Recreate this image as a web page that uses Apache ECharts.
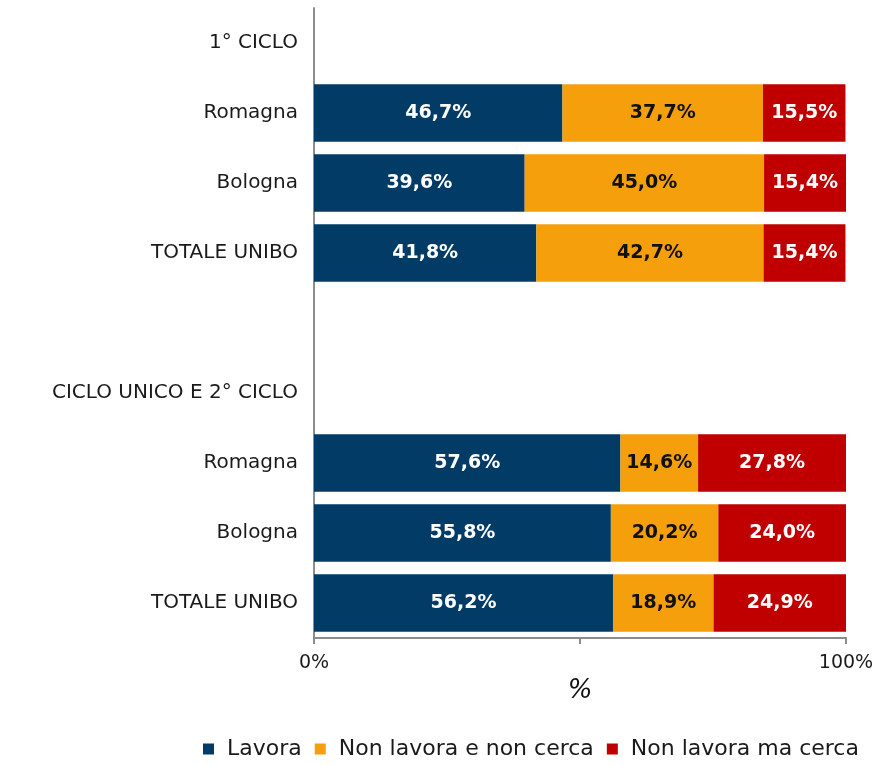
<!DOCTYPE html>
<html>
<head>
<meta charset="utf-8">
<script src="https://cdn.jsdelivr.net/npm/echarts@6/dist/echarts.min.js"></script>
<style>
  html, body { margin: 0; padding: 0; background: #fff; }
  #chart { width: 889px; height: 765px; }
</style>
</head>
<body>
<div id="chart"></div>
<script>
// categorie dall'alto verso il basso (intestazioni e riga vuota senza barre)
const categories = ['1° CICLO', 'Romagna', 'Bologna', 'TOTALE UNIBO', '', 'CICLO UNICO E 2° CICLO', 'Romagna', 'Bologna', 'TOTALE UNIBO']
const lavora = ['-', 46.7, 39.6, 41.8, '-', '-', 57.6, 55.8, 56.2]
const nonLavoraNonCerca = ['-', 37.7, 45.0, 42.7, '-', '-', 14.6, 20.2, 18.9]
const nonLavoraMaCerca = ['-', 15.5, 15.4, 15.4, '-', '-', 27.8, 24.0, 24.9]
const xTicks = [0, 50, 100]

const font = '"DejaVu Sans", sans-serif'
const chart = echarts.init(document.getElementById('chart'))

const pct = (p) => p.value.toFixed(1).replace('.', ',') + '%'

const makeSeries = (name, data, color, labelColor) => ({
  name: name,
  type: 'bar',
  stack: 'tot',
  data: data,
  barWidth: '82%',
  itemStyle: { color: color },
  label: {
    show: true,
    position: 'inside',
    formatter: pct,
    color: labelColor,
    fontFamily: font,
    fontWeight: 'bold',
    fontSize: 19
  }
})

chart.setOption({
  animation: false,
  textStyle: { fontFamily: font },
  grid: {
    left: 314,
    right: 43,
    top: 8,
    bottom: 127
  },
  legend: {
    bottom: 0,
    left: 198,
    itemWidth: 11,
    itemHeight: 11,
    itemGap: 13,
    icon: 'rect',
    textStyle: { fontFamily: font, fontSize: 22, color: '#1a1a1a', padding: [0, 0, 0, 8] },
    data: ['Lavora', 'Non lavora e non cerca', 'Non lavora ma cerca']
  },
  xAxis: {
    type: 'value',
    min: 0,
    max: 100,
    interval: 50,
    name: '%',
    nameLocation: 'middle',
    nameGap: 36,
    nameTextStyle: { fontFamily: font, fontSize: 26, color: '#111', fontStyle: 'italic' },
    axisLine: { show: true, lineStyle: { color: '#8c8c8c', width: 2 } },
    axisTick: { show: true, length: 6, lineStyle: { color: '#8c8c8c', width: 2 } },
    splitLine: { show: false },
    axisLabel: {
      margin: 16,
      fontSize: 19,
      color: '#1a1a1a',
      formatter: (v) => (xTicks.indexOf(v) !== -1 && v !== 50 ? v + '%' : '')
    }
  },
  yAxis: {
    type: 'category',
    inverse: true,
    data: categories,
    axisLine: { show: true, lineStyle: { color: '#8c8c8c', width: 2 } },
    axisTick: { show: false },
    axisLabel: { margin: 16, fontSize: 20, color: '#1a1a1a' }
  },
  series: [
    makeSeries('Lavora', lavora, '#023B66', '#fff'),
    makeSeries('Non lavora e non cerca', nonLavoraNonCerca, '#F59F0D', '#111'),
    makeSeries('Non lavora ma cerca', nonLavoraMaCerca, '#C00000', '#fff')
  ]
})
</script>
</body>
</html>
